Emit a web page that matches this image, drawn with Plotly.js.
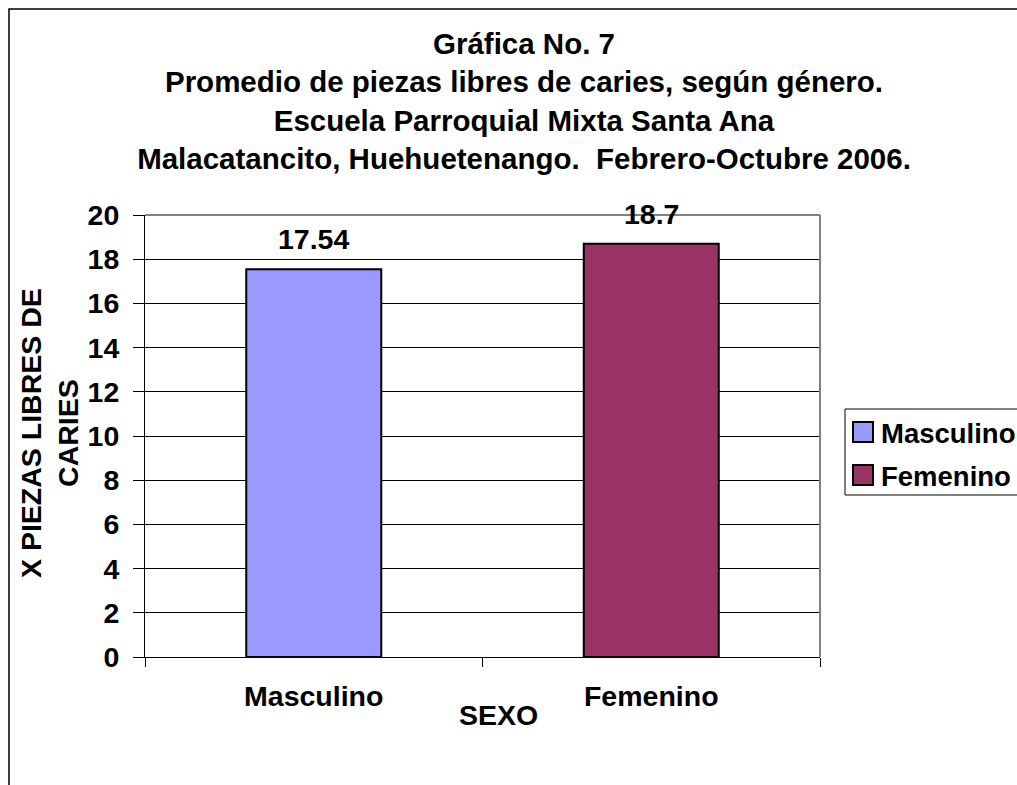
<!DOCTYPE html>
<html><head><meta charset="utf-8">
<script src="https://cdn.plot.ly/plotly-3.0.1.min.js"></script>
<style>body{margin:0;padding:0;background:#fff}</style>
</head><body>
<div id="chart" style="width:1017px;height:785px"></div>
<script>
const categories = ["Masculino", "Femenino"];
const values = [17.54, 18.7];
const labels = ["17.54", "18.7"];
const colors = ["#9999FF", "#993366"];
const titleText = "Gráfica No. 7<br>Promedio de piezas libres de caries, según género.<br>Escuela Parroquial Mixta Santa Ana<br>Malacatancito, Huehuetenango.\u00a0 Febrero-Octubre 2006.";
const yTitle = "X PIEZAS LIBRES DE<br>CARIES";
const xTitle = "SEXO";

const F = "Liberation Sans, Arial, sans-serif";
const bf = (s) => ({family: F, size: s, color: "#000", weight: "bold"});
const FS = 28.5;

const traces = categories.map((c, i) => ({
  type: "bar",
  name: c,
  x: [c],
  y: [values[i]],
  width: 0.4,
  marker: {color: colors[i], line: {color: "#000", width: 2}},
  hoverinfo: "none",
  showlegend: false
}));

const W = 1017, H = 785, L = 145, R = 820, T = 215, B = 657;
const px = (x) => (x - L) / (R - L);
const py = (y) => (B - y) / (B - T);

const annotations = [
  {text: yTitle, xref: "paper", yref: "paper", x: px(49), y: py(433), xanchor: "center", yanchor: "middle", textangle: -90, showarrow: false, font: bf(FS)},
  {text: xTitle, xref: "paper", yref: "paper", x: px(498), y: py(715), xanchor: "center", yanchor: "middle", showarrow: false, font: bf(FS)}
];
// data labels, placed at each bar's value through the data scale
categories.forEach((c, i) => annotations.push({
  text: labels[i], x: c, y: values[i], xref: "x", yref: "y",
  xanchor: "center", yanchor: "bottom", yshift: 12, showarrow: false, font: bf(FS)
}));

const shapes = [
  {type: "rect", xref: "paper", yref: "paper", x0: px(9), x1: px(1040), y0: py(800), y1: py(9), line: {color: "#000", width: 1.5}, fillcolor: "rgba(0,0,0,0)", layer: "below"},
  {type: "line", xref: "paper", yref: "paper", x0: 0, x1: 1, y0: 1, y1: 1, line: {color: "#808080", width: 2}},
  {type: "line", xref: "paper", yref: "paper", x0: 1, x1: 1, y0: 0, y1: 1, line: {color: "#808080", width: 2}},
  // legend box
  {type: "rect", xref: "paper", yref: "paper", x0: px(845), x1: px(1040), y0: py(495), y1: py(409), line: {color: "#000", width: 1}, fillcolor: "#fff"}
];
// legend entries
categories.forEach((c, i) => {
  const cy = 432 + i * 43;
  shapes.push({type: "rect", xref: "paper", yref: "paper", x0: px(853), x1: px(873), y0: py(cy + 10), y1: py(cy - 10), line: {color: "#000", width: 2}, fillcolor: colors[i]});
  annotations.push({text: c, xref: "paper", yref: "paper", x: px(879), y: py(cy + 1), xanchor: "left", yanchor: "middle", showarrow: false, font: bf(27.5)});
});

const layout = {
  width: W, height: H,
  margin: {l: L, r: W - R, t: T, b: H - B, pad: 0},
  paper_bgcolor: "#fff", plot_bgcolor: "#fff",
  font: {family: F, color: "#000"},
  title: {text: titleText, font: bf(29.5), x: 524 / W, xanchor: "center", y: 1 - 54 / H, yanchor: "top", yref: "container"},
  showlegend: false,
  xaxis: {
    type: "category", categoryorder: "array", categoryarray: categories,
    tickson: "boundaries", ticks: "outside", ticklen: 9, tickcolor: "#000",
    showline: true, linecolor: "#000", linewidth: 1,
    showgrid: false, zeroline: false,
    tickfont: bf(FS), ticklabelstandoff: 14,
    fixedrange: true
  },
  yaxis: {
    range: [0, 20], dtick: 2, tick0: 0,
    ticks: "outside", ticklen: 11, tickcolor: "#000",
    showline: true, linecolor: "#000", linewidth: 1,
    showgrid: true, gridcolor: "#000", gridwidth: 1,
    zeroline: false,
    tickfont: bf(FS), ticklabelstandoff: 8,
    fixedrange: true
  },
  annotations: annotations,
  shapes: shapes
};

Plotly.newPlot("chart", traces, layout, {staticPlot: true, displayModeBar: false});
</script>
</body></html>
